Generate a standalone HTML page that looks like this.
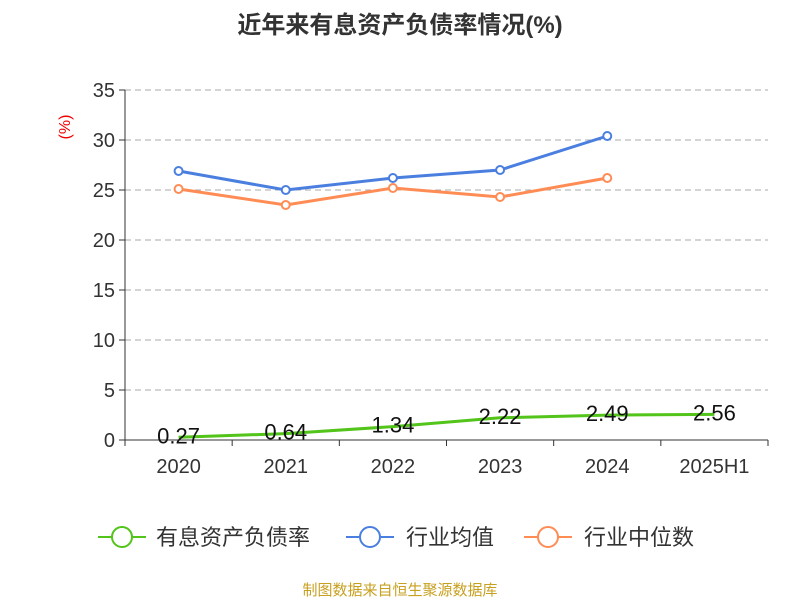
<!DOCTYPE html>
<html><head><meta charset="utf-8"><style>
body{margin:0;background:#fff;font-family:"Liberation Sans","Noto Sans CJK SC",sans-serif;}
</style></head><body>
<svg id="chart" width="800" height="600" viewBox="0 0 800 600" xmlns="http://www.w3.org/2000/svg" font-family="Liberation Sans, Noto Sans CJK SC, sans-serif">
<text x="400" y="33" text-anchor="middle" font-size="24" font-weight="bold" fill="#333">近年来有息资产负债率情况(%)</text>
<text x="70" y="127" text-anchor="middle" font-size="16" fill="#e00" transform="rotate(-90 70 127)">(%)</text>
<g id="grid"></g><g id="axes"></g><g id="series"></g>
<g>
<g><line x1="98" y1="537" x2="146" y2="537" stroke="#52c41a" stroke-width="2"/><circle cx="122" cy="537" r="10" fill="#fff" stroke="#52c41a" stroke-width="2"/><text x="156" y="545" font-size="22" fill="#333">有息资产负债率</text></g>
<g><line x1="346" y1="537" x2="394" y2="537" stroke="#4a7fe0" stroke-width="2"/><circle cx="370" cy="537" r="10" fill="#fff" stroke="#4a7fe0" stroke-width="2"/><text x="406" y="545" font-size="22" fill="#333">行业均值</text></g>
<g><line x1="524" y1="537" x2="572" y2="537" stroke="#ff8c55" stroke-width="2"/><circle cx="548" cy="537" r="10" fill="#fff" stroke="#ff8c55" stroke-width="2"/><text x="584" y="545" font-size="22" fill="#333">行业中位数</text></g>
</g>
<text x="400" y="595" text-anchor="middle" font-size="15" fill="#c8a020">制图数据来自恒生聚源数据库</text>
</svg>
<script>
const categories=["2020","2021","2022","2023","2024","2025H1"];
const companyValues=[0.27,0.64,1.34,2.22,2.49,2.56];
const industryAvg=[26.9,25.0,26.2,27.0,30.4];
const industryMedian=[25.1,23.5,25.2,24.3,26.2];
const yTicks=[0,5,10,15,20,25,30,35];
const NS="http://www.w3.org/2000/svg";
const x0=125,x1=768,yB=440,yT=90,yMax=35;
const bw=(x1-x0)/categories.length;
const xs=i=>x0+bw*(i+0.5);
const ys=v=>yB-(v/yMax)*(yB-yT);
function mk(t,a,p){const e=document.createElementNS(NS,t);for(const k in a)e.setAttribute(k,a[k]);p.appendChild(e);return e;}
const grid=document.getElementById('grid'),axes=document.getElementById('axes'),ser=document.getElementById('series');
yTicks.forEach(v=>{
 if(v>0){const g=mk('line',{x1:x0,x2:x1,y1:ys(v),y2:ys(v),stroke:'#aaa','stroke-dasharray':'6,4'},grid);
 
 }
 const t=mk('line',{x1:x0-6,x2:x0,y1:ys(v),y2:ys(v),stroke:'#333'},axes);
 
 
 const l=mk('text',{x:x0-10,y:ys(v)+7,'text-anchor':'end','font-size':20,fill:'#333'},axes);l.textContent=v;
 
 
});
const ya=mk('line',{x1:x0,x2:x0,y1:yT,y2:yB,stroke:'#333'},axes);


const xa=mk('line',{x1:x0,x2:x1,y1:yB,y2:yB,stroke:'#333'},axes);


for(let i=0;i<=categories.length;i++){const t=mk('line',{x1:x0+bw*i,x2:x0+bw*i,y1:yB,y2:yB+6,stroke:'#333'},axes);
 
 }
categories.forEach((c,i)=>{const l=mk('text',{x:xs(i),y:473,'text-anchor':'middle','font-size':20,fill:'#333'},axes);l.textContent=c;
 
 });
function line(vals,color,name,markers){
 const p=mk('polyline',{points:vals.map((v,i)=>xs(i)+','+ys(v)).join(' '),fill:'none',stroke:color,'stroke-width':3},ser);
 
 
 if(markers)vals.forEach((v,i)=>{const c=mk('circle',{cx:xs(i),cy:ys(v),r:4,fill:'#fff',stroke:color,'stroke-width':2},ser);
 
 });
}
line(industryAvg,'#4a7fe0','industry-avg',true);
line(industryMedian,'#ff8c55','industry-median',true);
line(companyValues,'#52c41a','company',false);
companyValues.forEach((v,i)=>{const l=mk('text',{x:xs(i),y:ys(v)+6,'text-anchor':'middle','font-size':22,fill:'#111'},ser);l.textContent=v.toFixed(2);
 
 });
</script>
</body></html>
